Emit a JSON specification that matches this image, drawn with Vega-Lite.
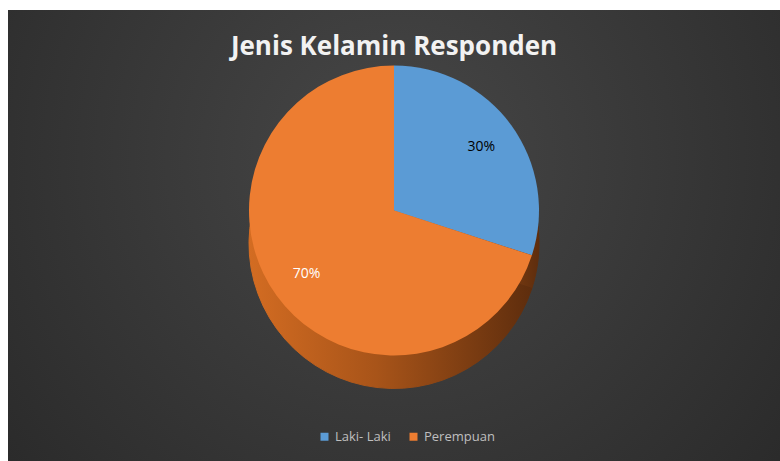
{
  "$schema": "https://vega.github.io/schema/vega-lite/v6.json",
  "autosize": {"type": "fit", "contains": "padding"},
  "width": 780,
  "height": 461,
  "padding": {"top": 10, "left": 8, "right": 0, "bottom": 0},
  "background": "#ffffff",
  "view": {
    "stroke": null,
    "fill": {
      "gradient": "radial",
      "x1": 0.5, "y1": 0.4, "r1": 0,
      "x2": 0.5, "y2": 0.4, "r2": 0.7,
      "stops": [
        {"offset": 0, "color": "#474747"},
        {"offset": 1, "color": "#282828"}
      ]
    }
  },
  "title": {
    "text": "Jenis Kelamin Responden",
    "orient": "top",
    "anchor": "middle",
    "offset": -50,
    "font": "Open Sans",
    "fontSize": 26,
    "fontWeight": "bold",
    "color": "#f2f2f2"
  },
  "data": {
    "values": [
      {"Jenis": "Laki- Laki", "Persen": 30, "Label": "30%"},
      {"Jenis": "Perempuan", "Persen": 70, "Label": "70%"}
    ]
  },
  "encoding": {
    "theta": {"field": "Persen", "type": "quantitative", "stack": true},
    "order": {"field": "Jenis", "type": "nominal", "sort": "ascending"}
  },
  "layer": [
    {
      "mark": {
        "type": "arc",
        "outerRadius": 145,
        "yOffset": 8,
        "strokeWidth": 1,
        "stroke": {
          "gradient": "linear",
          "x1": 0, "y1": 0, "x2": 1, "y2": 0,
          "stops": [
            {"offset": 0, "color": "#d36c22"},
            {"offset": 0.45, "color": "#a85419"},
            {"offset": 1, "color": "#5e2d0d"}
          ]
        },
        "fill": {
          "gradient": "linear",
          "x1": 0, "y1": 0, "x2": 1, "y2": 0,
          "stops": [
            {"offset": 0, "color": "#d36c22"},
            {"offset": 0.45, "color": "#a85419"},
            {"offset": 1, "color": "#5e2d0d"}
          ]
        }
      }
    },
    {
      "mark": {"type": "arc", "outerRadius": 145, "yOffset": -25, "stroke": null},
      "encoding": {
        "color": {
          "field": "Jenis",
          "type": "nominal",
          "scale": {"domain": ["Laki- Laki", "Perempuan"], "range": ["#5b9bd5", "#ed7d31"]},
          "legend": {
            "title": null,
            "orient": "none",
            "legendX": 310,
            "legendY": 420,
            "direction": "horizontal",
            "symbolType": "square",
            "symbolSize": 64,
            "labelColor": "#bfbfbf",
            "labelFont": "Open Sans",
            "labelFontSize": 13,
            "columnPadding": 16
          }
        }
      }
    },
    {
      "mark": {"type": "text", "radius": 108, "yOffset": -25, "font": "Open Sans", "fontSize": 14},
      "encoding": {
        "text": {"field": "Label", "type": "nominal"},
        "color": {
          "condition": {"test": "datum.Jenis === 'Laki- Laki'", "value": "#000000"},
          "value": "#ffffff"
        }
      }
    }
  ]
}
